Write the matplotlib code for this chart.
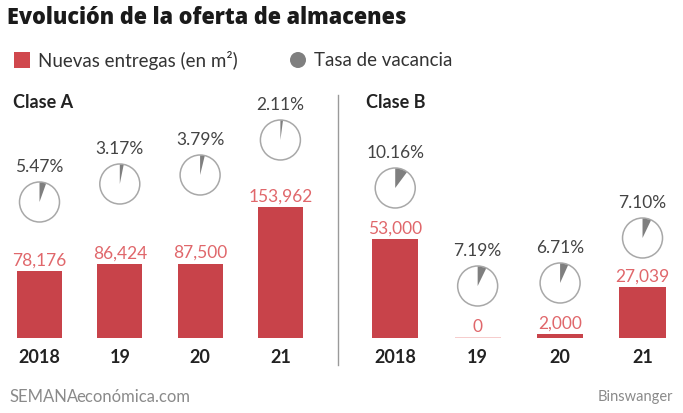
import matplotlib
matplotlib.use("Agg")
import matplotlib.pyplot as plt
from matplotlib.patches import Circle, Wedge, Rectangle

# ── datos ──
years = ["2018", "19", "20", "21"]
entregas_a = [78176, 86424, 87500, 153962]
entregas_b = [53000, 0, 2000, 27039]
vacancia_a = [5.47, 3.17, 3.79, 2.11]
vacancia_b = [10.16, 7.19, 6.71, 7.10]

# ── estilo ──
RED = "#c8434a"
RED_TXT = "#e0676b"
PIE_GRAY = "#7f7f7f"
RING = "#a8a8a8"
DARK = "#222222"
FONT = "Lato"
plt.rcParams["font.family"] = [FONT, "DejaVu Sans"]

W, H = 683, 413
BASE = 338                      # línea base de las barras (px desde arriba)
PX_A = 131 / 153962             # px por m² en Clase A
PX_B = 99 / 53000               # px por m² en Clase B
PIE_Y_A = [202, 184, 175, 140]  # centro de cada círculo (px)
PIE_Y_B = [188, 286, 283, 238]
R = 20

fig = plt.figure(figsize=(W / 100, H / 100), dpi=100)
ov = fig.add_axes([0, 0, 1, 1], zorder=5)
ov.set_xlim(0, W); ov.set_ylim(H, 0); ov.axis("off")
ov.patch.set_alpha(0)


def panel(left_px, right_px, x0, x1, px_per, vals, pcts, pie_ys):
    ax = fig.add_axes([left_px / W, (H - BASE) / H, (right_px - left_px) / W, BASE / H])
    ax.set_xlim(x0, x1)
    ax.set_ylim(0, BASE / px_per)
    ax.axis("off")
    xs = range(len(vals))
    ax.bar(xs, vals, width=0.56, color=RED, linewidth=0)
    for i, v in enumerate(vals):
        if v == 0:
            ax.hlines(0, i - 0.28, i + 0.28, color="#f5c4c4", lw=1.2)
        ax.annotate(f"{v:,}", (i, v), xytext=(0, 2), textcoords="offset points",
                    ha="center", va="bottom", color=RED_TXT, fontsize=12.5)
        ax.annotate(years[i], (i, 0), xytext=(0, -14), textcoords="offset points",
                    ha="center", va="center", color=DARK, fontsize=13, fontweight="bold")
    fig.canvas.draw()
    inv = ov.transData.inverted()
    for i, (p, cy) in enumerate(zip(pcts, pie_ys)):
        cx = inv.transform(ax.transData.transform((i, 0)))[0]
        ov.add_patch(Circle((cx, cy), R, facecolor="white", edgecolor=RING, lw=1.1))
        # y invertido: ángulos crecen en sentido horario en pantalla
        ov.add_patch(Wedge((cx, cy), R - 0.6, -90, -90 + p * 3.6, facecolor=PIE_GRAY, lw=0))
        ov.text(cx, cy - 35, f"{p:.2f}%", ha="center", va="center", color="#444444",
                fontsize=12.5)
    return ax


panel(0, 320, -39.5 / 80.3, (320 - 39.5) / 80.3, PX_A, entregas_a, vacancia_a, PIE_Y_A)
panel(354, 683, -0.5, (683 - 395) / 82.5, PX_B, entregas_b, vacancia_b, PIE_Y_B)

# título y leyenda
ov.text(7, 18, "Evolución de la oferta de almacenes", ha="left", va="center",
        fontsize=15.6, fontweight=800, family=["Open Sans", "DejaVu Sans"], color="#1a1a1a")
ov.add_patch(Rectangle((14, 52), 16, 16, facecolor="#d0474d", lw=0))
ov.text(38, 60, "Nuevas entregas (en m²)", ha="left", va="center", fontsize=13.5,
        color="#333333")
ov.add_patch(Circle((298, 60), 8, facecolor=PIE_GRAY, lw=0))
ov.text(314, 60, "Tasa de vacancia", ha="left", va="center", fontsize=13.5,
        color="#333333")

ov.text(13, 103, "Clase A", ha="left", va="center", fontsize=13, fontweight="bold", color=DARK)
ov.text(366, 103, "Clase B", ha="left", va="center", fontsize=13, fontweight="bold", color=DARK)
ov.plot([338, 338], [95, 365], color="#9a9a9a", lw=1)

# pie de página
t1 = ov.text(10, 397, "SEMANA", ha="left", va="center", fontsize=12, color="#8a8a8a")
fig.canvas.draw()
x_end = ov.transData.inverted().transform(t1.get_window_extent().get_points())[1][0]
ov.text(x_end - 2.5, 397, "económica.com", ha="left", va="center", fontsize=12, color="#8a8a8a")
ov.text(673, 397, "Binswanger", ha="right", va="center", fontsize=10.5, color="#8a8a8a")

fig.savefig("out.png", dpi=100)
